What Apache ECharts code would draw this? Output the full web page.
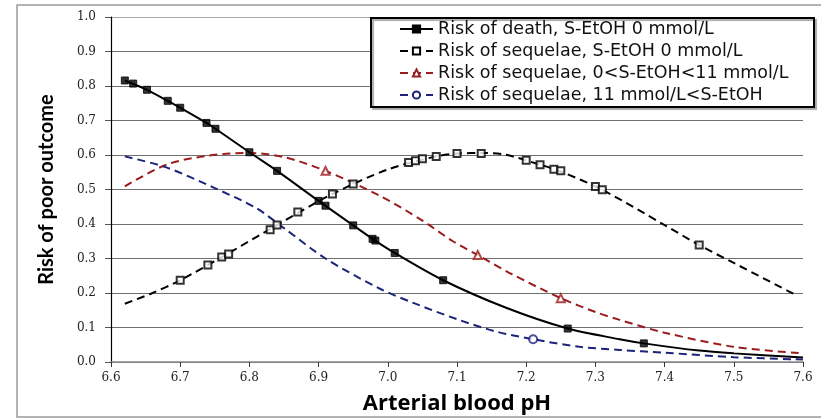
<!DOCTYPE html>
<html>
<head>
<meta charset="utf-8">
<script src="https://cdn.jsdelivr.net/npm/echarts@6/dist/echarts.min.js"></script>
<style>
  html, body { margin: 0; padding: 0; background: #fff; }
  #chart { width: 821px; height: 420px; }
</style>
</head>
<body>
<div id="chart"></div>
<script>
const deathCurvePH   = [6.62, 6.652, 6.682, 6.70, 6.738, 6.751, 6.80, 6.84, 6.90, 6.95, 6.98, 7.01, 7.08, 7.17, 7.26, 7.335, 7.37, 7.45, 7.50, 7.60];
const deathCurveRisk = [0.816, 0.789, 0.757, 0.737, 0.693, 0.676, 0.608, 0.554, 0.467, 0.396, 0.354, 0.316, 0.237, 0.158, 0.097, 0.066, 0.054, 0.033, 0.025, 0.013];
const deathPointPH   = [6.62, 6.632, 6.652, 6.682, 6.70, 6.738, 6.751, 6.80, 6.84, 6.90, 6.91, 6.95, 6.978, 6.982, 7.01, 7.08, 7.26, 7.37];
const deathPointRisk = [0.816, 0.807, 0.789, 0.757, 0.737, 0.693, 0.676, 0.608, 0.554, 0.467, 0.453, 0.396, 0.357, 0.352, 0.316, 0.237, 0.097, 0.054];

const seq0CurvePH   = [6.62, 6.66, 6.70, 6.76, 6.84, 6.92, 7.00, 7.07, 7.10, 7.14, 7.17, 7.22, 7.25, 7.31, 7.40, 7.45, 7.50, 7.59];
const seq0CurveRisk = [0.169, 0.200, 0.237, 0.304, 0.397, 0.487, 0.558, 0.596, 0.604, 0.606, 0.601, 0.572, 0.552, 0.499, 0.397, 0.339, 0.287, 0.194];
const seq0PointPH   = [6.70, 6.74, 6.76, 6.77, 6.83, 6.84, 6.87, 6.92, 6.95, 7.03, 7.04, 7.05, 7.07, 7.10, 7.135, 7.20, 7.22, 7.24, 7.25, 7.30, 7.31, 7.45];
const seq0PointRisk = [0.237, 0.281, 0.304, 0.313, 0.383, 0.397, 0.435, 0.487, 0.516, 0.578, 0.583, 0.589, 0.596, 0.604, 0.604, 0.585, 0.572, 0.559, 0.554, 0.509, 0.499, 0.339];

const seqMidCurvePH   = [6.62, 6.68, 6.74, 6.80, 6.85, 6.91, 6.99, 7.05, 7.094, 7.13, 7.18, 7.25, 7.30, 7.335, 7.40, 7.50, 7.60];
const seqMidCurveRisk = [0.509, 0.572, 0.598, 0.606, 0.594, 0.554, 0.480, 0.410, 0.350, 0.310, 0.254, 0.185, 0.145, 0.122, 0.085, 0.044, 0.025];
const seqMidPointPH   = [6.91, 7.13, 7.25];
const seqMidPointRisk = [0.554, 0.310, 0.185];

const seqHighCurvePH   = [6.62, 6.68, 6.75, 6.81, 6.85, 6.91, 6.988, 7.036, 7.10, 7.157, 7.21, 7.277, 7.335, 7.40, 7.50, 7.60];
const seqHighCurveRisk = [0.596, 0.564, 0.504, 0.446, 0.388, 0.300, 0.213, 0.172, 0.124, 0.088, 0.066, 0.044, 0.035, 0.027, 0.014, 0.007];
const seqHighPointPH   = [7.21];
const seqHighPointRisk = [0.066];

const seriesNames = [
  'Risk of death, S-EtOH 0 mmol/L',
  'Risk of sequelae, S-EtOH 0 mmol/L',
  'Risk of sequelae, 0<S-EtOH<11 mmol/L',
  'Risk of sequelae, 11 mmol/L<S-EtOH'
];

const xTicks = ['6.6', '6.7', '6.8', '6.9', '7.0', '7.1', '7.2', '7.3', '7.4', '7.5', '7.6'];

const zip = (xs, ys) => xs.map((x, i) => [x, ys[i]]);

const chart = echarts.init(document.getElementById('chart'), null, { renderer: 'canvas' });

const curve = (name, xs, ys, color, type, symbol, symbolSize) => ({
  name: name,
  type: 'line',
  data: zip(xs, ys),
  smooth: 0.3,
  showSymbol: false,
  symbol: symbol,
  symbolSize: symbolSize,
  itemStyle: { color: color, borderColor: color, borderWidth: 1 },
  lineStyle: { color: color, width: 2, type: type },
  emphasis: { disabled: true },
  z: 2
});

const points = (name, xs, ys, color, symbol, size) => ({
  name: name,
  type: 'scatter',
  data: zip(xs, ys),
  symbol: symbol,
  symbolSize: size,
  itemStyle: { color: color, borderColor: color, borderWidth: 1 },
  emphasis: { disabled: true },
  z: 3
});

const option = {
  animation: false,
  backgroundColor: '#fff',
  grid: { left: 111, right: 18, top: 17, bottom: 58 },
  graphic: [
    {
      type: 'rect', z: 0, silent: true,
      shape: { x: 17, y: 5, width: 840, height: 412 },
      style: { fill: null, stroke: '#9a9a9a', lineWidth: 1.5 }
    },
    {
      type: 'rect', z: 50, silent: true,
      shape: { x: 371, y: 18, width: 443, height: 89 },
      style: {
        fill: '#fff', stroke: '#000', lineWidth: 2,
        shadowColor: '#aaaaaa', shadowOffsetX: 2, shadowOffsetY: 2, shadowBlur: 1
      }
    }
  ],
  legend: {
    z: 60,
    orient: 'vertical',
    left: 399,
    top: 20,
    padding: 0,
    itemGap: 4,
    itemWidth: 33,
    itemHeight: 9,
    data: seriesNames,
    selectedMode: false,
    textStyle: { fontFamily: 'DejaVu Sans', fontSize: 17.5, color: '#111', lineHeight: 17 }
  },
  xAxis: {
    type: 'value',
    min: 6.6,
    max: 7.6,
    interval: 0.1,
    name: 'Arterial blood pH',
    nameLocation: 'middle',
    nameGap: 31,
    nameTextStyle: { fontFamily: 'Open Sans', fontWeight: 'bold', fontSize: 22, color: '#000' },
    axisLine: { show: true, lineStyle: { color: '#8a8a8a', width: 1.5 } },
    axisTick: { show: true, inside: false, length: 5, lineStyle: { color: '#333' } },
    axisLabel: {
      margin: 10,
      fontFamily: 'DejaVu Serif', fontSize: 12, color: '#222',
      formatter: (v) => xTicks[Math.round((v - 6.6) * 10)]
    },
    splitLine: { show: false }
  },
  yAxis: {
    type: 'value',
    min: 0,
    max: 1,
    interval: 0.1,
    name: 'Risk of poor outcome',
    nameLocation: 'middle',
    nameGap: 54,
    nameTextStyle: { fontFamily: 'Lato', fontWeight: 'bold', fontSize: 20, color: '#000' },
    axisLine: { show: true, lineStyle: { color: '#000', width: 1.2 } },
    axisTick: { show: true, inside: false, length: 6, lineStyle: { color: '#555' } },
    axisLabel: {
      margin: 15,
      fontFamily: 'DejaVu Serif', fontSize: 12, color: '#222',
      formatter: (v) => v.toFixed(1)
    },
    splitLine: {
      show: true,
      lineStyle: { color: ['#6f6f6f', '#6f6f6f', '#6f6f6f', '#6f6f6f', '#6f6f6f', '#6f6f6f', '#6f6f6f', '#6f6f6f', '#6f6f6f', '#6f6f6f', '#aaaaaa'], width: 1 }
    }
  },
  series: [
    curve(seriesNames[0], deathCurvePH, deathCurveRisk, '#000', 'solid', 'rect', 7),
    curve(seriesNames[1], seq0CurvePH, seq0CurveRisk, '#000', [8, 5], 'emptyRect', 7),
    curve(seriesNames[2], seqMidCurvePH, seqMidCurveRisk, '#9b1c1c', [8, 5], 'emptyTriangle', 8),
    curve(seriesNames[3], seqHighCurvePH, seqHighCurveRisk, '#1b2478', [8, 5], 'emptyCircle', 8),
    points(seriesNames[0], deathPointPH, deathPointRisk, '#000', 'rect', 7),
    points(seriesNames[1], seq0PointPH, seq0PointRisk, '#000', 'emptyRect', 7),
    points(seriesNames[2], seqMidPointPH, seqMidPointRisk, '#9b1c1c', 'emptyTriangle', 8),
    points(seriesNames[3], seqHighPointPH, seqHighPointRisk, '#1b2478', 'emptyCircle', 8)
  ]
};

chart.setOption(option);
window.addEventListener('resize', () => chart.resize());
</script>
</body>
</html>
